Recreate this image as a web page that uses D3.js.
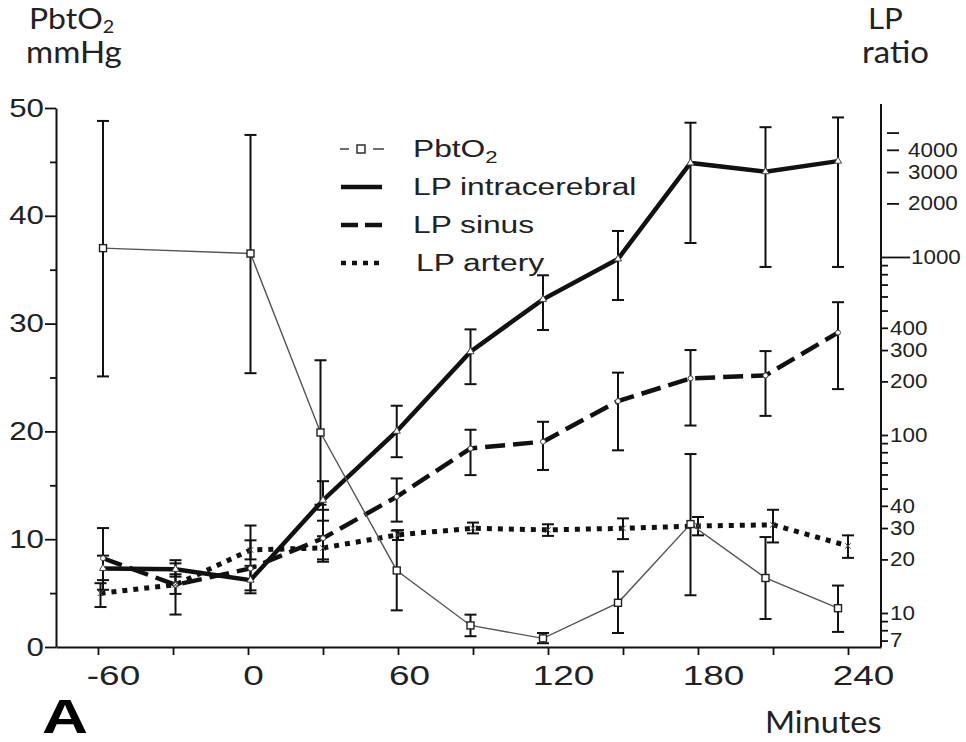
<!DOCTYPE html>
<html><head><meta charset="utf-8">
<script src="https://cdn.jsdelivr.net/npm/d3@7"></script>
<style>body{margin:0;background:#fff} svg{display:block}</style>
</head><body>
<svg id="chart" width="966" height="742"></svg>
<script>
// ---------- data ----------
const pbtTimes  = [-58, 1, 29, 59.5, 89, 118, 148, 177, 207, 236];
const pbtMean   = [37.0, 36.5, 19.9, 7.1, 2.0, 0.8, 4.1, 11.4, 6.4, 3.6];
const pbtUpper  = [48.8, 47.5, 26.6, 10.8, 3.0, 1.3, 7.0, 17.9, 10.2, 5.7];
const pbtLower  = [25.1, 25.4, 13.2, 3.4, 1.0, 0.35, 1.3, 4.8, 2.6, 1.4];

const lpTimes    = [-58, -29, 1, 30, 59.5, 89, 118, 148, 177, 207, 236];
const intraMean  = [17.8, 17.6, 15.3, 43, 105, 294, 578, 975, 3375, 3015, 3455];
const intraUpper = [21, 19, 18.4, 55, 146, 392, 789, 1400, 5680, 5360, 6080];
const intraLower = [13.5, 16, 13.4, 33, 75, 193, 389, 573, 1198, 879, 879];

const sinusMean  = [20.3, 14.4, 17.8, 26.3, 45, 84, 91.7, 155, 208, 216, 376];
const sinusUpper = [30, 19.8, 31, 38, 57, 107, 118.6, 224, 300, 296, 557];
const sinusLower = [15.3, 9.8, 12.9, 19.4, 32.6, 59.5, 63.6, 82, 113, 128, 181];

const arteryTimes = [-59, -29, 1, 30, 60, 90, 120, 150, 180, 210, 240];
const arteryMean  = [12.9, 14.4, 22.6, 23.2, 27.5, 29.9, 29.3, 29.9, 30.8, 31.3, 23.8];
const arteryUpper = [14.7, 16.5, 25.6, 27, 29.2, 32.2, 31.5, 34, 34.6, 38, 27.3];
const arteryLower = [10.8, 12.8, 20, 20, 25.7, 28, 27.1, 26, 27.3, 24.9, 20.4];

const xTicks        = [-60, -30, 0, 30, 60, 90, 120, 150, 180, 210, 240];
const xLabelTicks   = [-60, 0, 60, 120, 180, 240];
const leftMajor     = [0, 10, 20, 30, 40, 50];
const leftMinor     = [5, 15, 25, 35, 45];
const rightLabeled  = [7, 10, 20, 30, 40, 100, 200, 300, 400];
const rightLong     = [1000];
const rightMinor    = [8, 9, 50, 60, 70, 80, 90, 500, 600, 700, 800, 900];
const rightFloat    = [2000, 3000, 4000, 5000];
const rightFloatLab = [2000, 3000, 4000];
const legendLabels  = ["PbtO", "LP intracerebral", "LP sinus", "LP artery"];

// ---------- scales ----------
const svg = d3.select("#chart");
const x  = d3.scaleLinear().domain([-76.8, 253.2]).range([56, 881]);
const yL = d3.scaleLinear().domain([0, 50]).range([647, 108]);
const yR = d3.scaleLog().domain([6.44, 6870]).range([647, 108]);

const AX = "Liberation Sans, Arial, sans-serif";
const TT = "Lato, Open Sans, sans-serif";

function stretch(sel, sx, dxFn) {
  sel.each(function (d) {
    const t = d3.select(this);
    const x0 = (+t.attr("x") || 0) + (dxFn ? dxFn(d) : 0), y0 = +t.attr("y") || 0;
    t.attr("x", 0).attr("y", 0).attr("transform", `translate(${x0},${y0}) scale(${sx},1)`);
  });
}
function styleAxis(g, size) {
  g.selectAll("path.domain").attr("stroke", "#111").attr("stroke-width", 2);
  g.selectAll(".tick line").attr("stroke", "#111").attr("stroke-width", 1.8);
  g.selectAll("text").attr("font-family", AX).attr("font-size", size).attr("fill", "#222");
}

// ---------- axes ----------
const gL = svg.append("g").attr("transform", "translate(56,0)")
  .call(d3.axisLeft(yL).tickValues(leftMajor).tickSize(11).tickSizeOuter(0).tickPadding(1));
styleAxis(gL, 25); stretch(gL.selectAll("text"), 1.25);
const gLm = svg.append("g").attr("transform", "translate(56,0)")
  .call(d3.axisLeft(yL).tickValues(leftMinor).tickSize(6).tickFormat(""));
gLm.select("path.domain").remove(); styleAxis(gLm, 25);

const gB = svg.append("g").attr("transform", "translate(0,647)")
  .call(d3.axisBottom(x).tickValues(xTicks).tickSize(8).tickSizeOuter(0).tickPadding(10)
    .tickFormat(d => xLabelTicks.includes(d) ? d : ""));
styleAxis(gB, 28);
stretch(gB.selectAll("text"), 1.32, d => { const n = String(d).length; return n === 1 ? 5 : (n === 2 ? 11 : 15); });

const gR = svg.append("g").attr("transform", "translate(881,0)")
  .call(d3.axisRight(yR).tickValues(rightLabeled).tickSize(7).tickSizeOuter(0).tickPadding(2)
    .tickFormat(d3.format("d")));
styleAxis(gR, 20); stretch(gR.selectAll("text"), 1.12);
gR.select("path.domain").attr("d", `M0,${yR.range()[0]}V104`);
const gRl = svg.append("g").attr("transform", "translate(881,0)")
  .call(d3.axisRight(yR).tickValues(rightLong).tickSize(29).tickPadding(1).tickFormat(d3.format("d")));
gRl.select("path.domain").remove(); styleAxis(gRl, 20); stretch(gRl.selectAll("text"), 1.12);
const gRm = svg.append("g").attr("transform", "translate(881,0)")
  .call(d3.axisRight(yR).tickValues(rightMinor).tickSize(7).tickFormat(""));
gRm.select("path.domain").remove(); styleAxis(gRm, 20);
const gRf = svg.append("g").attr("transform", "translate(887,0)")
  .call(d3.axisRight(yR).tickValues(rightFloat).tickSize(12).tickPadding(9)
    .tickFormat(d => rightFloatLab.includes(d) ? d : ""));
gRf.select("path.domain").remove(); styleAxis(gRf, 20); stretch(gRf.selectAll("text"), 1.12);

// ---------- titles ----------
function txt(xp, yp, s, size, fam, sx, anchor, weight) {
  return svg.append("text").attr("transform", `translate(${xp},${yp}) scale(${sx},1)`)
    .attr("font-family", fam).attr("font-size", size).attr("fill", "#222")
    .attr("text-anchor", anchor || "start").attr("font-weight", weight || "normal").text(s);
}
const t1 = txt(29, 29, "PbtO", 29, TT, 1.1);
t1.append("tspan").attr("dy", 4).attr("font-size", 18).text("2");
txt(26, 63, "mmHg", 30, TT, 1.1);
txt(868, 29, "LP", 29, TT, 1.08);
txt(862, 63, "ratio", 30, TT, 1.1);
txt(765, 733, "Minutes", 30, TT, 1.08);
txt(42, 733, "A", 49, AX, 1.3, "start", "bold").attr("fill", "#000");

// ---------- error bars ----------
function errorBars(times, lo, hi, yS, cap) {
  const g = svg.append("g").attr("stroke", "#111").attr("stroke-width", 2).attr("fill", "none");
  times.forEach((t, i) => {
    const xp = x(t);
    g.append("line").attr("x1", xp).attr("x2", xp).attr("y1", yS(lo[i])).attr("y2", yS(hi[i]));
    g.append("line").attr("x1", xp - cap).attr("x2", xp + cap).attr("y1", yS(lo[i])).attr("y2", yS(lo[i]));
    g.append("line").attr("x1", xp - cap).attr("x2", xp + cap).attr("y1", yS(hi[i])).attr("y2", yS(hi[i]));
  });
}
errorBars(arteryTimes, arteryLower, arteryUpper, yR, 6);
errorBars(lpTimes, sinusLower, sinusUpper, yR, 6);
errorBars(lpTimes, intraLower, intraUpper, yR, 6);
errorBars(pbtTimes, pbtLower, pbtUpper, yL, 6);

// ---------- lines ----------
function series(times, vals, yS, style) {
  const pts = times.map((t, i) => [x(t), yS(vals[i])]);
  svg.append("path").attr("d", d3.line()(pts)).attr("fill", "none")
    .attr("stroke", style.color).attr("stroke-width", style.w)
    .attr("stroke-dasharray", style.dash || null).attr("stroke-linecap", "butt");
  return pts;
}
const pA = series(arteryTimes, arteryMean, yR, {color: "#111", w: 5, dash: "5,6"});
const pS = series(lpTimes, sinusMean, yR, {color: "#111", w: 4.5, dash: "20,8"});
const pI = series(lpTimes, intraMean, yR, {color: "#111", w: 4.5});
const pP = series(pbtTimes, pbtMean, yL, {color: "#555", w: 1.4});

// ---------- markers ----------
svg.append("g").selectAll("path").data(pI).join("path")
  .attr("d", d3.symbol(d3.symbolTriangle, 22)).attr("transform", d => `translate(${d[0]},${d[1]})`)
  .attr("fill", "#fff").attr("stroke", "#444").attr("stroke-width", 1);
svg.append("g").selectAll("circle").data(pS).join("circle")
  .attr("cx", d => d[0]).attr("cy", d => d[1]).attr("r", 2.5)
  .attr("fill", "#fff").attr("stroke", "#444").attr("stroke-width", 1);
svg.append("g").selectAll("path").data(pA).join("path")
  .attr("d", d3.symbol(d3.symbolTimes, 22)).attr("transform", d => `translate(${d[0]},${d[1]})`)
  .attr("fill", "none").attr("stroke", "#444").attr("stroke-width", 1);
svg.append("g").selectAll("rect").data(pP).join("rect")
  .attr("x", d => d[0] - 3.5).attr("y", d => d[1] - 3.5).attr("width", 7).attr("height", 7)
  .attr("fill", "#fff").attr("stroke", "#222").attr("stroke-width", 1.4);

// ---------- legend ----------
const lg = svg.append("g");
const rows = [149, 187, 225, 263];
lg.append("line").attr("x1", 340).attr("x2", 349).attr("y1", rows[0]).attr("y2", rows[0]).attr("stroke", "#333").attr("stroke-width", 1.4);
lg.append("line").attr("x1", 373).attr("x2", 384).attr("y1", rows[0]).attr("y2", rows[0]).attr("stroke", "#333").attr("stroke-width", 1.4);
lg.append("rect").attr("x", 357).attr("y", rows[0] - 4).attr("width", 8).attr("height", 8).attr("fill", "#fff").attr("stroke", "#222").attr("stroke-width", 1.4);
lg.append("line").attr("x1", 341).attr("x2", 382).attr("y1", rows[1]).attr("y2", rows[1]).attr("stroke", "#111").attr("stroke-width", 4.5);
lg.append("line").attr("x1", 341).attr("x2", 382).attr("y1", rows[2]).attr("y2", rows[2]).attr("stroke", "#111").attr("stroke-width", 4.5).attr("stroke-dasharray", "17,7");
lg.append("line").attr("x1", 341).attr("x2", 382).attr("y1", rows[3]).attr("y2", rows[3]).attr("stroke", "#111").attr("stroke-width", 4.5).attr("stroke-dasharray", "5,6");
const lx = [413, 413, 413, 416];
legendLabels.forEach((s, i) => {
  const t = txt(lx[i], rows[i] + 8, s, 23, AX, 1.38);
  if (i === 0) t.append("tspan").attr("dy", 6).attr("font-size", 16).text("2");
});
</script>
</body></html>
